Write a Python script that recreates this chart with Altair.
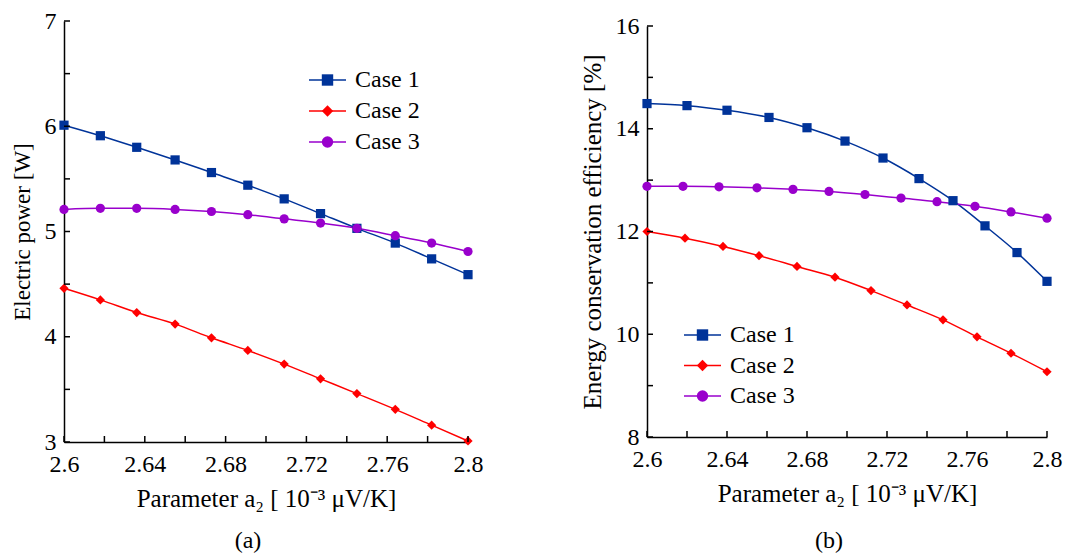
import altair as alt
import pandas as pd

FONT = "Liberation Serif"
CASES = ["Case 1", "Case 2", "Case 3"]
COLORS = ["#003399", "#ff0000", "#9900cc"]
MARKER_SHAPES = ["square", "diamond", "circle"]

# ---- panel (a): electric power [W]
a_x_case1 = [2.600, 2.618, 2.636, 2.655, 2.673, 2.691, 2.709, 2.727, 2.745, 2.764, 2.782, 2.800]
a_y_case1 = [6.01, 5.91, 5.80, 5.68, 5.56, 5.44, 5.31, 5.17, 5.03, 4.89, 4.74, 4.59]
a_x_case2 = [2.600, 2.618, 2.636, 2.655, 2.673, 2.691, 2.709, 2.727, 2.745, 2.764, 2.782, 2.800]
a_y_case2 = [4.46, 4.35, 4.23, 4.12, 3.99, 3.87, 3.74, 3.60, 3.46, 3.31, 3.16, 3.01]
a_x_case3 = [2.600, 2.618, 2.636, 2.655, 2.673, 2.691, 2.709, 2.727, 2.745, 2.764, 2.782, 2.800]
a_y_case3 = [5.21, 5.22, 5.22, 5.21, 5.19, 5.16, 5.12, 5.08, 5.03, 4.96, 4.89, 4.81]

# ---- panel (b): energy conservation efficiency [%]
b_x_case1 = [2.600, 2.620, 2.640, 2.661, 2.680, 2.699, 2.718, 2.736, 2.753, 2.769, 2.785, 2.800]
b_y_case1 = [14.49, 14.45, 14.36, 14.22, 14.02, 13.76, 13.43, 13.03, 12.60, 12.11, 11.59, 11.03]
b_x_case2 = [2.600, 2.619, 2.638, 2.656, 2.675, 2.694, 2.712, 2.730, 2.748, 2.765, 2.782, 2.800]
b_y_case2 = [12.00, 11.87, 11.71, 11.53, 11.32, 11.11, 10.85, 10.57, 10.28, 9.95, 9.63, 9.27]
b_x_case3 = [2.600, 2.618, 2.636, 2.655, 2.673, 2.691, 2.709, 2.727, 2.745, 2.764, 2.782, 2.800]
b_y_case3 = [12.88, 12.88, 12.87, 12.85, 12.82, 12.78, 12.72, 12.65, 12.58, 12.49, 12.38, 12.26]

# ---- axis ticks / labels
x_tick_values = [2.60, 2.62, 2.64, 2.66, 2.68, 2.70, 2.72, 2.74, 2.76, 2.78, 2.80]
x_label_values = [2.60, 2.64, 2.68, 2.72, 2.76, 2.80]
a_y_tick_values = [3.0, 3.5, 4.0, 4.5, 5.0, 5.5, 6.0, 6.5, 7.0]
a_y_label_values = [3, 4, 5, 6, 7]
b_y_tick_values = [8, 9, 10, 11, 12, 13, 14, 15, 16]
b_y_label_values = [8, 10, 12, 14, 16]

X_TITLE = "Parameter a\u2082 [ 10\u207b\u00b3 \u03bcV/K]"


def long_df(xs_list, ys_list):
    rows = []
    for case, xs, ys in zip(CASES, xs_list, ys_list):
        for x, y in zip(xs, ys):
            rows.append({"case": case, "x": x, "y": y})
    return pd.DataFrame(rows)


def panel(df, ydom, ytick_vals, ylabel_vals, width, height, ytitle, ytitle_size,
          leg_left, leg_rows, sub, sub_offset):
    xs = alt.Scale(domain=[2.6, 2.8], nice=False, zero=False)
    ys = alt.Scale(domain=ydom, nice=False, zero=False)
    cscale = alt.Scale(domain=CASES, range=COLORS)
    sscale = alt.Scale(domain=CASES, range=MARKER_SHAPES)

    xaxis = alt.Axis(values=x_label_values, format=".2~f", ticks=False, grid=False,
                     title=X_TITLE, titleFontSize=25, labelFontSize=24,
                     labelPadding=10, titlePadding=10, labelOverlap=False,
                     labelFlush=False, labelBound=False)
    yaxis = alt.Axis(values=ylabel_vals, format="~g", ticks=False, grid=False,
                     title=ytitle, titleFontSize=ytitle_size, labelFontSize=24,
                     labelPadding=8, titlePadding=10, labelOverlap=False,
                     labelFlush=False, labelBound=False)

    base = alt.Chart(df)
    lines = base.mark_line(interpolate="monotone", strokeWidth=1.5).encode(
        x=alt.X("x:Q", scale=xs, axis=xaxis),
        y=alt.Y("y:Q", scale=ys, axis=yaxis),
        color=alt.Color("case:N", scale=cscale, legend=None),
        detail="case:N",
    )
    pts = base.mark_point(filled=True, size=85, opacity=1).encode(
        x=alt.X("x:Q", scale=xs),
        y=alt.Y("y:Q", scale=ys),
        color=alt.Color("case:N", scale=cscale, legend=None),
        shape=alt.Shape("case:N", scale=sscale, legend=None),
    )
    ytick_df = pd.DataFrame({"v": ytick_vals})
    xtick_df = pd.DataFrame({"v": x_tick_values})
    yticks = alt.Chart(ytick_df).mark_rule(color="black", strokeWidth=1.5).encode(
        y=alt.Y("v:Q", scale=ys), x=alt.value(0), x2=alt.value(6))
    xticks = alt.Chart(xtick_df).mark_rule(color="black", strokeWidth=1.5).encode(
        x=alt.X("v:Q", scale=xs), y=alt.value(height), y2=alt.value(height - 6))
    main = alt.layer(lines, pts, yticks, xticks)

    # legend drawn from the case list, rows placed by a point scale
    leg_df = pd.DataFrame({"case": CASES})
    ly = alt.Y("case:N", scale=alt.Scale(type="point", domain=CASES, range=leg_rows, padding=0),
               axis=None)
    lbase = alt.Chart(leg_df)
    leg_line = lbase.mark_rule(strokeWidth=1.5).encode(
        y=ly, x=alt.value(leg_left), x2=alt.value(leg_left + 37),
        color=alt.Color("case:N", scale=cscale, legend=None))
    leg_pt = lbase.mark_point(filled=True, size=130, opacity=1).encode(
        y=ly, x=alt.value(leg_left + 18.5),
        color=alt.Color("case:N", scale=cscale, legend=None),
        shape=alt.Shape("case:N", scale=sscale, legend=None))
    leg_txt = lbase.mark_text(align="left", baseline="middle", font=FONT, fontSize=24,
                              color="black").encode(
        y=ly, x=alt.value(leg_left + 46), text="case:N")
    legend = alt.layer(leg_line, leg_pt, leg_txt)

    return alt.layer(main, legend).resolve_scale(y="independent").properties(
        width=width, height=height,
        title=alt.TitleParams(sub, orient="bottom", font=FONT, fontSize=24,
                              fontWeight="normal", color="black", offset=sub_offset, dx=-18),
    )


df_a = long_df([a_x_case1, a_x_case2, a_x_case3], [a_y_case1, a_y_case2, a_y_case3])
df_b = long_df([b_x_case1, b_x_case2, b_x_case3], [b_y_case1, b_y_case2, b_y_case3])

left = panel(df_a, [3, 7], a_y_tick_values, a_y_label_values, 404, 421,
             "Electric power [W]", 23, 245, [59, 121], "(a)", 18)
right = panel(df_b, [8, 16], b_y_tick_values, b_y_label_values, 400, 411,
              "Energy conservation efficiency [%]", 25, 37, [309, 370], "(b)", 23)

chart = alt.hconcat(left, right, spacing=179, bounds="flush", center=True).properties(
    padding={"left": 11, "top": 9, "right": 5, "bottom": 5}
).configure_view(stroke=None).configure_axis(
    labelFont=FONT, titleFont=FONT, labelColor="black", titleColor="black",
    titleFontWeight="normal", domainColor="black", domainWidth=1.5,
)

chart.save("out.html", embed_options={"renderer": "svg", "actions": False})
